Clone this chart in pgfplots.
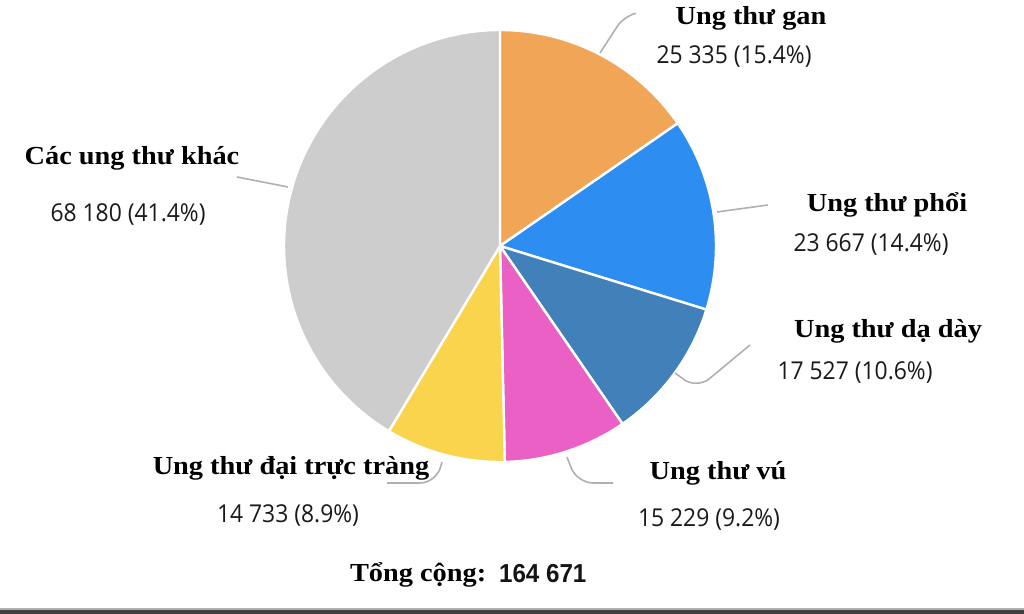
\documentclass[border=0pt]{standalone}
\usepackage{pgfplots}
\pgfplotsset{compat=1.18}
\usepackage{pgfplotstable}
\usepackage{fontspec}
\setmainfont{Liberation Serif}
\newfontfamily\lbl{Liberation Serif}[FakeStretch=1.09]
\newfontfamily\numf{Open Sans}[FakeStretch=0.93]
\newfontfamily\totf{Liberation Sans}[FakeStretch=0.93]
\definecolor{cgan}{RGB}{240,166,86}
\definecolor{cphoi}{RGB}{45,141,240}
\definecolor{cdaday}{RGB}{66,128,186}
\definecolor{cvu}{RGB}{234,96,196}
\definecolor{cdai}{RGB}{250,212,76}
\definecolor{ckhac}{RGB}{205,205,205}
\definecolor{cline}{RGB}{176,176,176}
\pgfplotstableread{
name value
gan 25335
phoi 23667
daday 17527
vu 15229
daitrang 14733
khac 68180
}\cancerdata
\begin{document}
\begin{tikzpicture}
\pgfplotstablegetelem{0}{value}\of\cancerdata \edef\vA{\pgfplotsretval}
\pgfplotstablegetelem{1}{value}\of\cancerdata \edef\vB{\pgfplotsretval}
\pgfplotstablegetelem{2}{value}\of\cancerdata \edef\vC{\pgfplotsretval}
\pgfplotstablegetelem{3}{value}\of\cancerdata \edef\vD{\pgfplotsretval}
\pgfplotstablegetelem{4}{value}\of\cancerdata \edef\vE{\pgfplotsretval}
\pgfplotstablegetelem{5}{value}\of\cancerdata \edef\vF{\pgfplotsretval}
\edef\T{\fpeval{\vA+\vB+\vC+\vD+\vE+\vF}}
\edef\aA{90}
\edef\aB{\fpeval{\aA-360*\vA/\T}}
\edef\aC{\fpeval{\aB-360*\vB/\T}}
\edef\aD{\fpeval{\aC-360*\vC/\T}}
\edef\aE{\fpeval{\aD-360*\vD/\T}}
\edef\aF{\fpeval{\aE-360*\vE/\T}}
\edef\aG{\fpeval{\aF-360*\vF/\T}}
\begin{axis}[
  at={(0,0)}, anchor=south west,
  width=512pt, height=307pt, scale only axis,
  xmin=0, xmax=1024, ymin=0, ymax=614,
  hide axis, clip=false,
]
\pgfplotsset{wedge/.style={draw=white, line width=1.2pt, line join=round, samples=90}}
\addplot[wedge, fill=cgan,   domain=\aB:\aA] ({500+216*cos(x)},{368+216*sin(x)}) -- (axis cs:500,368) -- cycle;
\addplot[wedge, fill=cphoi,  domain=\aC:\aB] ({500+216*cos(x)},{368+216*sin(x)}) -- (axis cs:500,368) -- cycle;
\addplot[wedge, fill=cdaday, domain=\aD:\aC] ({500+216*cos(x)},{368+216*sin(x)}) -- (axis cs:500,368) -- cycle;
\addplot[wedge, fill=cvu,    domain=\aE:\aD] ({500+216*cos(x)},{368+216*sin(x)}) -- (axis cs:500,368) -- cycle;
\addplot[wedge, fill=cdai,   domain=\aF:\aE] ({500+216*cos(x)},{368+216*sin(x)}) -- (axis cs:500,368) -- cycle;
\addplot[wedge, fill=ckhac,  domain=\aG:\aF] ({500+216*cos(x)},{368+216*sin(x)}) -- (axis cs:500,368) -- cycle;
% connector lines
\draw[cline, line width=0.8pt, rounded corners=6pt] (axis cs:600,561) -- (axis cs:624,598) -- (axis cs:633,600);
\draw[cline, line width=0.8pt] (axis cs:237,437) -- (axis cs:288,427);
\draw[cline, line width=0.8pt] (axis cs:717,402) -- (axis cs:768,409);
\draw[cline, line width=0.8pt, rounded corners=8pt] (axis cs:675,241) -- (axis cs:697,225) -- (axis cs:750,269);
\draw[cline, line width=0.8pt, rounded corners=8pt] (axis cs:567,157) -- (axis cs:577,131) -- (axis cs:613,131);
\draw[cline, line width=0.8pt, rounded corners=8pt] (axis cs:442,152) -- (axis cs:436,131) -- (axis cs:387,131);
% labels
\tikzset{lab/.style={anchor=base, text=black, font={\fontsize{13pt}{15pt}\selectfont\lbl\bfseries}},
         val/.style={anchor=base, text=black!90, font={\fontsize{12.3pt}{14pt}\selectfont\numf}}}
\node[lab] at (axis cs:751,589) {Ung thư gan};
\node[val] at (axis cs:734,550) {25 335 (15.4\%)};
\node[lab] at (axis cs:887,402) {Ung thư phổi};
\node[val] at (axis cs:871,362) {23 667 (14.4\%)};
\node[lab] at (axis cs:888,276) {Ung thư dạ dày};
\node[val] at (axis cs:855,234) {17 527 (10.6\%)};
\node[lab] at (axis cs:718,134) {Ung thư vú};
\node[val] at (axis cs:709,87) {15 229 (9.2\%)};
\node[lab] at (axis cs:291,139) {Ung thư đại trực tràng};
\node[val] at (axis cs:288,91) {14 733 (8.9\%)};
\node[lab] at (axis cs:132,449) {Các ung thư khác};
\node[val] at (axis cs:128,392) {68 180 (41.4\%)};
\node[lab, anchor=base west] at (axis cs:343,32) {Tổng cộng:};
\node[anchor=base west, text=black!92, font={\fontsize{13pt}{15pt}\selectfont\totf\bfseries}] at (axis cs:492,31) {164 671};
% bottom dark band
\fill[black!30] (axis cs:0,4) rectangle (axis cs:1024,5.5);
\fill[black!75] (axis cs:0,0) rectangle (axis cs:1024,4);
\end{axis}
\pgfresetboundingbox
\path (0,0) rectangle (512pt,307pt);
\end{tikzpicture}
\end{document}
